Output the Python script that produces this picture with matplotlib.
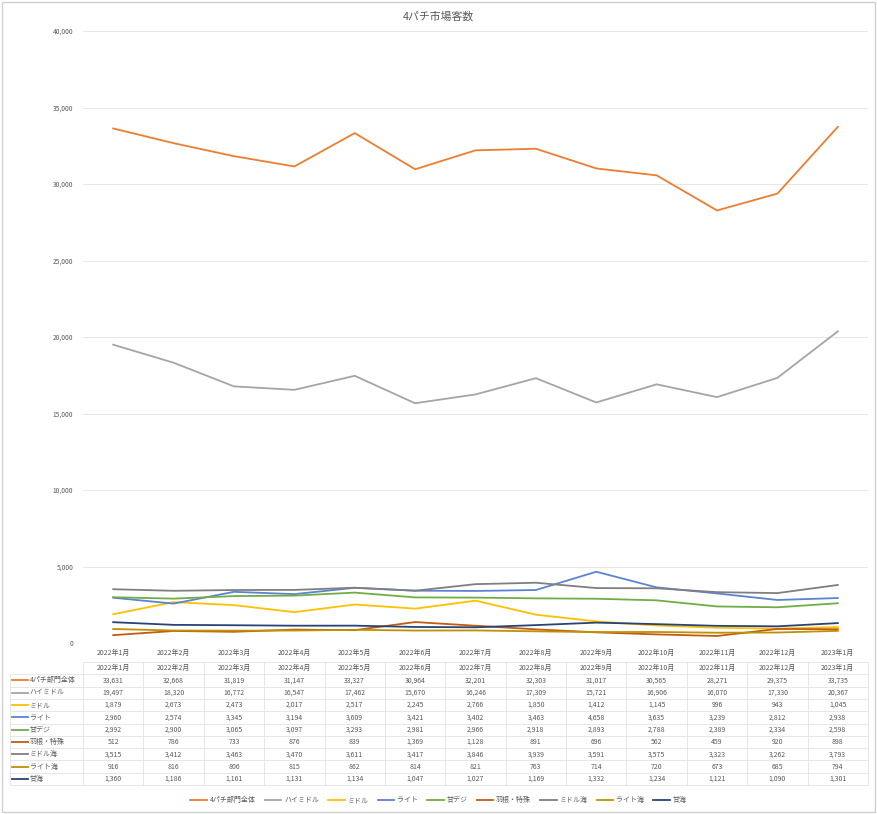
import matplotlib.pyplot as plt
from matplotlib.lines import Line2D
from matplotlib.patches import Rectangle

plt.rcParams["font.family"] = ["Noto Sans CJK JP", "DejaVu Sans"]

months = ["2022年1月", "2022年2月", "2022年3月", "2022年4月", "2022年5月", "2022年6月",
          "2022年7月", "2022年8月", "2022年9月", "2022年10月", "2022年11月", "2022年12月",
          "2023年1月"]

series_names = ["4パチ部門全体", "ハイミドル", "ミドル", "ライト", "甘デジ",
                "羽根・特殊", "ミドル海", "ライト海", "甘海"]

total = [33631, 32668, 31819, 31147, 33327, 30964, 32201, 32303, 31017, 30565, 28271, 29375, 33735]
high_middle = [19497, 18320, 16772, 16547, 17462, 15670, 16246, 17309, 15721, 16906, 16070, 17330, 20367]
middle = [1879, 2673, 2473, 2017, 2517, 2245, 2766, 1850, 1412, 1145, 996, 943, 1045]
light = [2960, 2574, 3345, 3194, 3609, 3421, 3402, 3463, 4658, 3635, 3239, 2812, 2938]
amadeji = [2992, 2900, 3065, 3097, 3293, 2981, 2966, 2918, 2893, 2788, 2389, 2334, 2598]
hane = [512, 786, 733, 876, 839, 1369, 1128, 891, 696, 562, 459, 920, 898]
middle_umi = [3515, 3412, 3463, 3470, 3611, 3417, 3846, 3939, 3591, 3575, 3323, 3262, 3793]
light_umi = [916, 816, 806, 815, 862, 814, 821, 763, 714, 720, 673, 685, 794]
ama_umi = [1360, 1186, 1161, 1131, 1134, 1047, 1027, 1169, 1332, 1234, 1121, 1090, 1301]

series = [total, high_middle, middle, light, amadeji, hane, middle_umi, light_umi, ama_umi]
colors = ["#ED7D31", "#A5A5A5", "#FFC000", "#5B83D1", "#70AD47",
          "#C55A11", "#7F7F7F", "#BF9000", "#264478"]

W, H = 877, 814
TXT = "#595959"
GRID = "#E3E3E3"

fig = plt.figure(figsize=(W / 100, H / 100), dpi=100)
fig.patches.append(Rectangle((0.002, 0.002), 0.996, 0.996, transform=fig.transFigure,
                             fill=False, edgecolor="#D0D0D0", lw=1.0))

left, right = 83 / W, 868 / W
ax = fig.add_axes([left, (H - 643) / H, right - left, (643 - 31) / H])
x = list(range(len(months)))
for vals, name, c in zip(series, series_names, colors):
    ax.plot(x, vals, color=c, lw=1.3, label=name)

ax.set_xlim(-0.5, len(months) - 0.5)
ax.set_ylim(0, 40000)
ax.set_yticks(range(0, 40001, 5000))
ax.set_yticklabels([f"{v:,}" for v in range(0, 40001, 5000)])
ax.set_xticks(x)
ax.set_xticklabels(months)
ax.tick_params(axis="y", length=0, pad=7, labelsize=4.8, labelcolor=TXT)
ax.tick_params(axis="x", length=0, pad=4, labelsize=5.0, labelcolor=TXT)
ax.grid(axis="y", color=GRID, lw=0.6)
ax.set_axisbelow(True)
for s in ax.spines.values():
    s.set_visible(False)
ax.axhline(0, color=GRID, lw=0.8, zorder=0)

fig.text(0.5, (H - 17) / H, "4パチ市場客数", ha="center", va="center", fontsize=7.8, color=TXT)

# data table under the chart
tb = fig.add_axes([left, (H - 785) / H, right - left, (785 - 662) / H])
tb.set_xlim(-0.5, len(months) - 0.5)
n_rows = len(series) + 1
tb.set_ylim(n_rows, 0)
tb.axis("off")
col_w = (right - left) * W / len(months)
label_left = -0.5 - (83 - 10) / col_w

for r in range(n_rows + 1):
    x0 = -0.5 if r == 0 else label_left
    tb.plot([x0, len(months) - 0.5], [r, r], color=GRID, lw=0.6, clip_on=False)
for c in range(len(months) + 1):
    tb.plot([c - 0.5, c - 0.5], [0, n_rows], color=GRID, lw=0.6, clip_on=False)
tb.plot([label_left, label_left], [1, n_rows], color=GRID, lw=0.6, clip_on=False)

for i, m in enumerate(months):
    tb.text(i, 0.5, m, ha="center", va="center", fontsize=5.0, color=TXT)
for r, (vals, name, c) in enumerate(zip(series, series_names, colors), start=1):
    tb.plot([label_left + 0.04, label_left + 0.3], [r + 0.5, r + 0.5], color=c, lw=1.3, clip_on=False)
    tb.text(label_left + 0.33, r + 0.5, name, ha="left", va="center", fontsize=5.0, color=TXT)
    for i, v in enumerate(vals):
        tb.text(i, r + 0.5, f"{v:,}", ha="center", va="center", fontsize=5.0, color=TXT)

handles = [Line2D([0], [0], color=c, lw=1.3) for c in colors]
fig.legend(handles, series_names, loc="center", bbox_to_anchor=(0.5, (H - 800) / H), ncol=9,
           frameon=False, fontsize=5.0, labelcolor=TXT, handlelength=2.4, columnspacing=1.3,
           handletextpad=0.4)

fig.savefig("out.png", dpi=100)
